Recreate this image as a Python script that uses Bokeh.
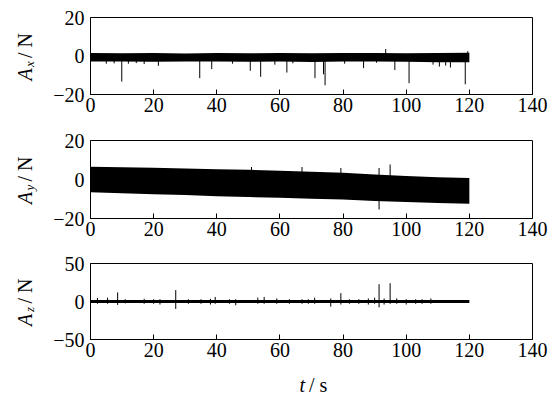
import math
from bokeh.plotting import figure
from bokeh.layouts import column, row
from bokeh.models import Range1d, FixedTicker
from bokeh.core.properties import value
from bokeh.embed import file_html
from bokeh.resources import INLINE

# ---------------- data ----------------
x_ticks = [0, 20, 40, 60, 80, 100, 120, 140]

env_t = [0, 10, 20, 30, 40, 50, 60, 70, 80, 90, 100, 110, 120]
# Ax: dense oscillation band (upper / lower envelopes)
ax_upper = [1.6, 1.4, 1.5, 1.3, 1.5, 1.4, 1.5, 1.4, 1.6, 1.5, 1.4, 1.6, 1.7]
ax_lower = [-2.9, -2.8, -3.0, -2.8, -2.9, -3.0, -2.8, -3.1, -2.9, -2.8, -3.0, -3.2, -3.3]
ax_spike_t = [5.0, 7.5, 9.9, 12.0, 14.5, 17.0, 21.5, 34.6, 38.4, 45.0, 50.6, 53.9, 58.4,
              62.2, 64.1, 71.1, 73.8, 74.3, 80.5, 86.5, 90.6, 93.5, 96.4, 100.9, 108.5,
              110.5, 112.5, 114.0, 118.7, 119.5]
ax_spike_v = [-4.0, -3.8, -13.3, -4.0, -3.7, -4.2, -5.1, -11.5, -6.8, -4.0, -7.7, -10.8, -4.5,
              -8.6, -3.8, -11.5, -9.5, -15.2, -4.0, -6.3, -3.5, 3.6, -7.3, -14.1, -4.5,
              -5.5, -5.0, -6.0, -14.7, 2.5]

# Ay: drifting band
ay_upper = [6.6, 6.3, 6.0, 5.6, 5.3, 5.0, 4.5, 4.0, 3.4, 2.6, 1.8, 1.2, 0.8]
ay_lower = [-6.6, -7.0, -7.5, -8.0, -8.6, -9.0, -9.4, -9.9, -10.3, -11.0, -11.6, -12.0, -12.4]
ay_spike_t = [51.0, 67.0, 79.3, 91.4, 91.4, 94.9]
ay_spike_v = [6.4, 6.4, 5.9, 5.9, -15.4, 7.7]

# Az: thin band with spikes
az_upper = [2.0, 2.0, 2.0, 2.0, 2.0, 2.0, 2.0, 2.0, 2.0, 2.0, 2.0, 2.0, 2.0]
az_lower = [-2.0, -2.0, -2.0, -2.0, -2.0, -2.0, -2.0, -2.0, -2.0, -2.0, -2.0, -2.0, -2.0]
az_spike_t = [2.2, 5.4, 8.6, 11.0, 17.0, 20.0, 22.0, 27.0, 31.0, 35.0, 38.0, 39.5, 44.0,
              46.0, 53.0, 55.0, 59.0, 63.0, 67.0, 69.0, 71.0, 76.1, 79.3, 82.0, 85.0,
              88.0, 90.0, 91.4, 93.0, 94.9, 97.0, 100.0, 103.0, 105.0, 107.8]
az_spike_lo = [-3, -3, -4.6, -2.5, -3, -3, -4, -9.8, -3, -3, -4, -3, -3,
               -5, -3, -3, -3, -3, -3, -3, -3, -6.8, -4, -3, -3,
               -4, -3, -7.7, -4, -3, -3, -4, -3, -3, -3]
az_spike_hi = [4.6, 5, 12, 3, 3.5, 3, 3, 15, 3, 3, 3.5, 6, 3,
               3, 5, 6, 4, 3, 3, 3, 5, 4, 11, 3, 3,
               4, 5, 22.8, 4, 24, 4, 3, 3, 3, 4]

y_subscripts = ["x", "y", "z"]

FONT = "Liberation Serif"
FS = "20px"
TOTAL_H = 395
LAB_W = 45
MAIN_W = 505
STRIP_H = 29


def make_fig(height, top, bottom, yr, yticks, ylabels):
    p = figure(width=MAIN_W, height=height, x_range=Range1d(0, 140), y_range=Range1d(*yr),
               output_backend="svg", toolbar_location=None,
               min_border_left=45, min_border_right=18,
               min_border_top=top, min_border_bottom=bottom)
    p.grid.visible = False
    p.outline_line_color = "black"
    p.outline_line_width = 1
    p.background_fill_color = "white"
    p.border_fill_color = "white"
    for ax in (p.xaxis[0], p.yaxis[0]):
        ax.axis_line_color = "black"
        ax.axis_line_width = 1
        ax.minor_tick_line_color = None
        ax.major_label_text_font = FONT
        ax.major_label_text_font_size = FS
        ax.major_label_text_color = "black"
    p.xaxis.ticker = FixedTicker(ticks=x_ticks)
    p.xaxis.major_tick_in = 5
    p.xaxis.major_tick_out = 0
    p.xaxis.major_tick_line_color = "black"
    p.xaxis.major_label_standoff = 3
    p.yaxis.ticker = FixedTicker(ticks=yticks)
    p.yaxis.major_tick_in = 0
    p.yaxis.major_tick_out = 0
    p.yaxis.major_label_standoff = 6
    p.yaxis.major_label_overrides = {v: s for v, s in zip(yticks, ylabels)}
    return p


def blank_fig(width, height, xr, yr):
    f = figure(width=width, height=height, x_range=Range1d(*xr), y_range=Range1d(*yr),
               output_backend="svg", toolbar_location=None, title=None,
               x_axis_location=None, y_axis_location=None,
               min_border=0, min_border_left=0, min_border_right=0,
               min_border_top=0, min_border_bottom=0)
    f.grid.visible = False
    f.outline_line_color = None
    f.background_fill_color = "white"
    f.border_fill_color = "white"
    return f


# panel 1
p1 = make_fig(125, 17, 31, (-20, 20), [-20, 0, 20], ["\u221220", "0", "20"])
p1.varea(x=env_t, y1=ax_lower, y2=ax_upper, fill_color="black")
p1.segment(x0=ax_spike_t, y0=[0] * len(ax_spike_t), x1=ax_spike_t, y1=ax_spike_v,
           line_color="black", line_width=1)

# panel 2
p2 = make_fig(123, 15, 30, (-20, 20), [-20, 0, 20], ["\u221220", "0", "20"])
p2.varea(x=env_t, y1=ay_lower, y2=ay_upper, fill_color="black")
p2.segment(x0=ay_spike_t, y0=[-5] * len(ay_spike_t), x1=ay_spike_t, y1=ay_spike_v,
           line_color="black", line_width=1)

# panel 3
p3_h = TOTAL_H - 125 - 123 - STRIP_H
p3 = make_fig(p3_h, 15, p3_h - 15 - 76, (-50, 50), [-50, 0, 50], ["\u221250", "0", "50"])
p3.varea(x=env_t, y1=az_lower, y2=az_upper, fill_color="black")
p3.segment(x0=az_spike_t, y0=az_spike_lo, x1=az_spike_t, y1=az_spike_hi,
           line_color="black", line_width=1)

# left strip with the y-axis titles (coordinates are page pixels, y negated)
lab = blank_fig(LAB_W, TOTAL_H, (0, LAB_W), (-TOTAL_H, 0))
centers = [55.5, 179.0, 301.0]
for c, sub in zip(centers, y_subscripts):
    lab.text(x=[24], y=[-(c + 18.5)], text=["A"], angle=math.pi / 2,
             text_font=value(FONT), text_font_style="italic", text_font_size=FS,
             text_align="center", text_baseline="middle", text_color="black")
    lab.text(x=[28.5], y=[-(c + 8.0)], text=[sub], angle=math.pi / 2,
             text_font=value(FONT), text_font_style="italic", text_font_size="13px",
             text_align="center", text_baseline="middle", text_color="black")
    lab.text(x=[24], y=[-(c - 10.5)], text=["/ N"], angle=math.pi / 2,
             text_font=value(FONT), text_font_size=FS,
             text_align="center", text_baseline="middle", text_color="black")

# bottom strip with the x-axis title
xl = blank_fig(MAIN_W, STRIP_H, (LAB_W, LAB_W + MAIN_W), (-TOTAL_H, -(TOTAL_H - STRIP_H)))
xl.text(x=[287], y=[-384], text=["t"], text_font=value(FONT), text_font_style="italic",
        text_font_size=FS, text_align="center", text_baseline="middle",
        text_color="black")
xl.text(x=[305], y=[-384], text=["/ s"], text_font=value(FONT),
        text_font_size=FS, text_align="center", text_baseline="middle",
        text_color="black")

layout = row(lab, column(p1, p2, p3, xl, spacing=0), spacing=0)
open("out.html", "w").write(file_html(layout, INLINE))
